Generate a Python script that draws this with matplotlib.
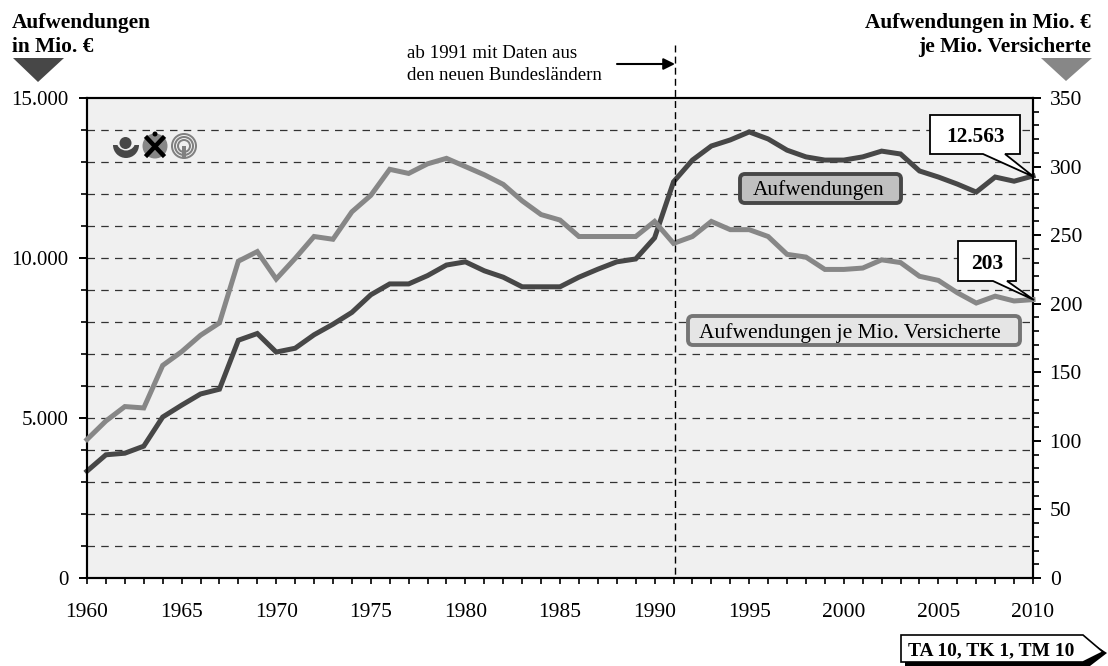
import numpy as np
import matplotlib
matplotlib.use('Agg')
import matplotlib.pyplot as plt
from matplotlib.patches import Polygon, Circle, Wedge, Rectangle, FancyBboxPatch

plt.rcParams['font.family'] = ['Liberation Serif', 'DejaVu Serif']

# =========================
# DATA
# =========================
years = list(range(1960, 2011))
aufwendungen = [3340, 3850, 3900, 4120, 5030, 5400, 5750, 5900, 7430, 7640,
                7060, 7180, 7600, 7930, 8300, 8850, 9190, 9190, 9450, 9780,
                9880, 9600, 9400, 9100, 9100, 9100, 9400, 9650, 9880, 9970,
                10630, 12380, 13060, 13500, 13690, 13940, 13720, 13370, 13160, 13060,
                13060, 13160, 13340, 13250, 12720, 12530, 12310, 12060, 12530, 12400,
                12563]
je_versicherte = [101, 114.5, 125, 124, 155, 165, 177, 186, 231, 238,
                  218, 233, 249, 247, 267, 279, 298, 295, 302, 306,
                  300, 294, 287, 275, 265, 261, 249, 249, 249, 249,
                  260, 244, 249, 260, 254, 254, 249, 236, 234, 225,
                  225, 226, 232, 230, 220, 217, 208, 200.5, 205.5, 202,
                  203]
left_ticks = [0, 5000, 10000, 15000]
left_labels = ['0', '5.000', '10.000', '15.000']
right_ticks = [0, 50, 100, 150, 200, 250, 300, 350]
x_ticks = list(range(1960, 2011, 5))

DARK = '#474747'
LIGHT = '#878787'
W, H = 1108, 666
x0, x1, y_top, y_bot = 87, 1033, 98, 578

# =========================
# AXES
# =========================
fig = plt.figure(figsize=(W / 100, H / 100), dpi=100)
ax = fig.add_axes([x0 / W, 1 - y_bot / H, (x1 - x0) / W, (y_bot - y_top) / H])
ax.set_facecolor('#f0f0f0')
ax.set_xlim(1960, 2010)
ax.set_ylim(0, 15000)

ax2 = ax.twinx()
ax2.set_ylim(0, 350)

for a in (ax, ax2):
    for s in a.spines.values():
        s.set_linewidth(1.5)
        s.set_color('black')

for v in range(1000, 15000, 1000):
    ax.axhline(v, color='#333333', lw=0.9, dashes=(6, 5), zorder=1)

ax.set_xticks(x_ticks)
ax.set_xticks(years, minor=True)
ax.set_yticks(left_ticks)
ax.set_yticklabels(left_labels)
ax.set_yticks(range(0, 15001, 1000), minor=True)
ax2.set_yticks(right_ticks)
ax2.set_yticks(range(0, 351, 10), minor=True)

ax.tick_params(axis='x', which='major', length=4.6, width=1.2, labelsize=15.5, pad=13.5)
ax.tick_params(axis='x', which='minor', length=4.3, width=1.2)
ax.tick_params(axis='y', which='major', length=6, width=1.4, labelsize=15, pad=7.5)
ax.tick_params(axis='y', which='minor', length=4.3, width=1.2)
ax2.tick_params(axis='y', which='major', length=6, width=1.4, labelsize=15.5, pad=6)
ax2.tick_params(axis='y', which='minor', length=4.3, width=1.2)

ax.plot(years, aufwendungen, color=DARK, lw=3.6, zorder=4, clip_on=False, solid_joinstyle='miter')
ax2.plot(years, je_versicherte, color=LIGHT, lw=3.6, zorder=3, clip_on=False, solid_joinstyle='miter')

# =========================
# OVERLAY IN PIXEL COORDS
# =========================
ov = fig.add_axes([0, 0, 1, 1], zorder=10)
ov.set_xlim(0, W)
ov.set_ylim(H, 0)
ov.axis('off')
ov.patch.set_alpha(0)

# headers
ov.text(12, 23, 'Aufwendungen', fontsize=15.4, fontweight='bold', va='center')
ov.text(12, 47, 'in Mio. €', fontsize=15.4, fontweight='bold', va='center')
ov.text(1091, 23, 'Aufwendungen in Mio. €', fontsize=15.4, fontweight='bold', va='center', ha='right')
ov.text(1091, 47, 'je Mio. Versicherte', fontsize=15.4, fontweight='bold', va='center', ha='right')
ov.add_patch(Polygon([(13, 58), (64, 58), (38, 82)], color=DARK, lw=0))
ov.add_patch(Polygon([(1041, 58), (1092, 58), (1066, 81)], color=LIGHT, lw=0))

# 1991 marker
ov.plot([675, 675], [45, y_bot], color='black', lw=1, dashes=(5, 3))
ov.text(407, 53, 'ab 1991 mit Daten aus', fontsize=13.6, va='center')
ov.text(407, 75, 'den neuen Bundesländern', fontsize=13.6, va='center')
ov.annotate('', xy=(675, 64), xytext=(617, 64),
            arrowprops=dict(arrowstyle='-|>', color='black', lw=1.5, mutation_scale=17, shrinkA=0, shrinkB=0))

# value callouts
ov.add_patch(Polygon([(930, 115), (1020, 115), (1020, 154), (1005, 154), (1034, 177), (983, 154), (930, 154)],
                     fc='white', ec='black', lw=1.3))
ov.text(975, 137, '12.563', fontsize=15.3, fontweight='bold', ha='center', va='center')
ov.add_patch(Polygon([(958, 241), (1016, 241), (1016, 281), (1007, 281), (1034, 300), (993, 281), (958, 281)],
                     fc='white', ec='black', lw=1.3))
ov.text(987, 264, '203', fontsize=15.5, fontweight='bold', ha='center', va='center')

# series labels
ov.add_patch(FancyBboxPatch((740, 174), 161, 29, boxstyle='round,pad=0,rounding_size=5',
                            fc='#c0c0c0', ec=DARK, lw=2.8))
ov.text(819, 190, 'Aufwendungen', fontsize=15.4, ha='center', va='center')
ov.add_patch(FancyBboxPatch((688, 316), 332, 29, boxstyle='round,pad=0,rounding_size=5',
                            fc='#e5e5e5', ec='#757575', lw=2.8))
ov.text(849.5, 333, 'Aufwendungen je Mio. Versicherte', fontsize=15.5, ha='center', va='center')

# logos
ov.add_patch(Wedge((126, 145), 13, 0, 180, fc=DARK, lw=0))
ov.add_patch(Circle((126, 141), 9.5, fc='#f0f0f0', lw=0))
ov.add_patch(Circle((125.5, 143), 6, fc=DARK, lw=0))
ov.add_patch(Circle((155, 146), 12.5, fc=LIGHT, lw=0))
ov.plot([147, 163], [138, 155], color='black', lw=3.2)
ov.plot([163, 147], [138, 155], color='black', lw=3.2)
ov.add_patch(Circle((155, 134), 2.5, fc='black', lw=0))
for r, c in [(13, '#808080'), (11, '#f0f0f0'), (10, '#808080'), (8, '#f0f0f0'), (7, '#808080'), (5, '#f0f0f0')]:
    ov.add_patch(Circle((184, 146), r, fc=c, lw=0))
ov.add_patch(Rectangle((182, 146), 4, 12, fc='#808080', lw=0))

# reference tag
ov.add_patch(Polygon([(905, 638), (1084, 638), (1107, 653), (1090, 666), (905, 666)], fc='black', lw=0))
ov.add_patch(Polygon([(901, 635), (1083, 635), (1103, 652), (1083, 662), (901, 662)],
                     fc='white', ec='black', lw=1.2))
ov.text(908, 651, 'TA 10, TK 1, TM 10', fontsize=14, fontweight='bold', va='center')

plt.savefig('out.png', dpi=100)
plt.close()
